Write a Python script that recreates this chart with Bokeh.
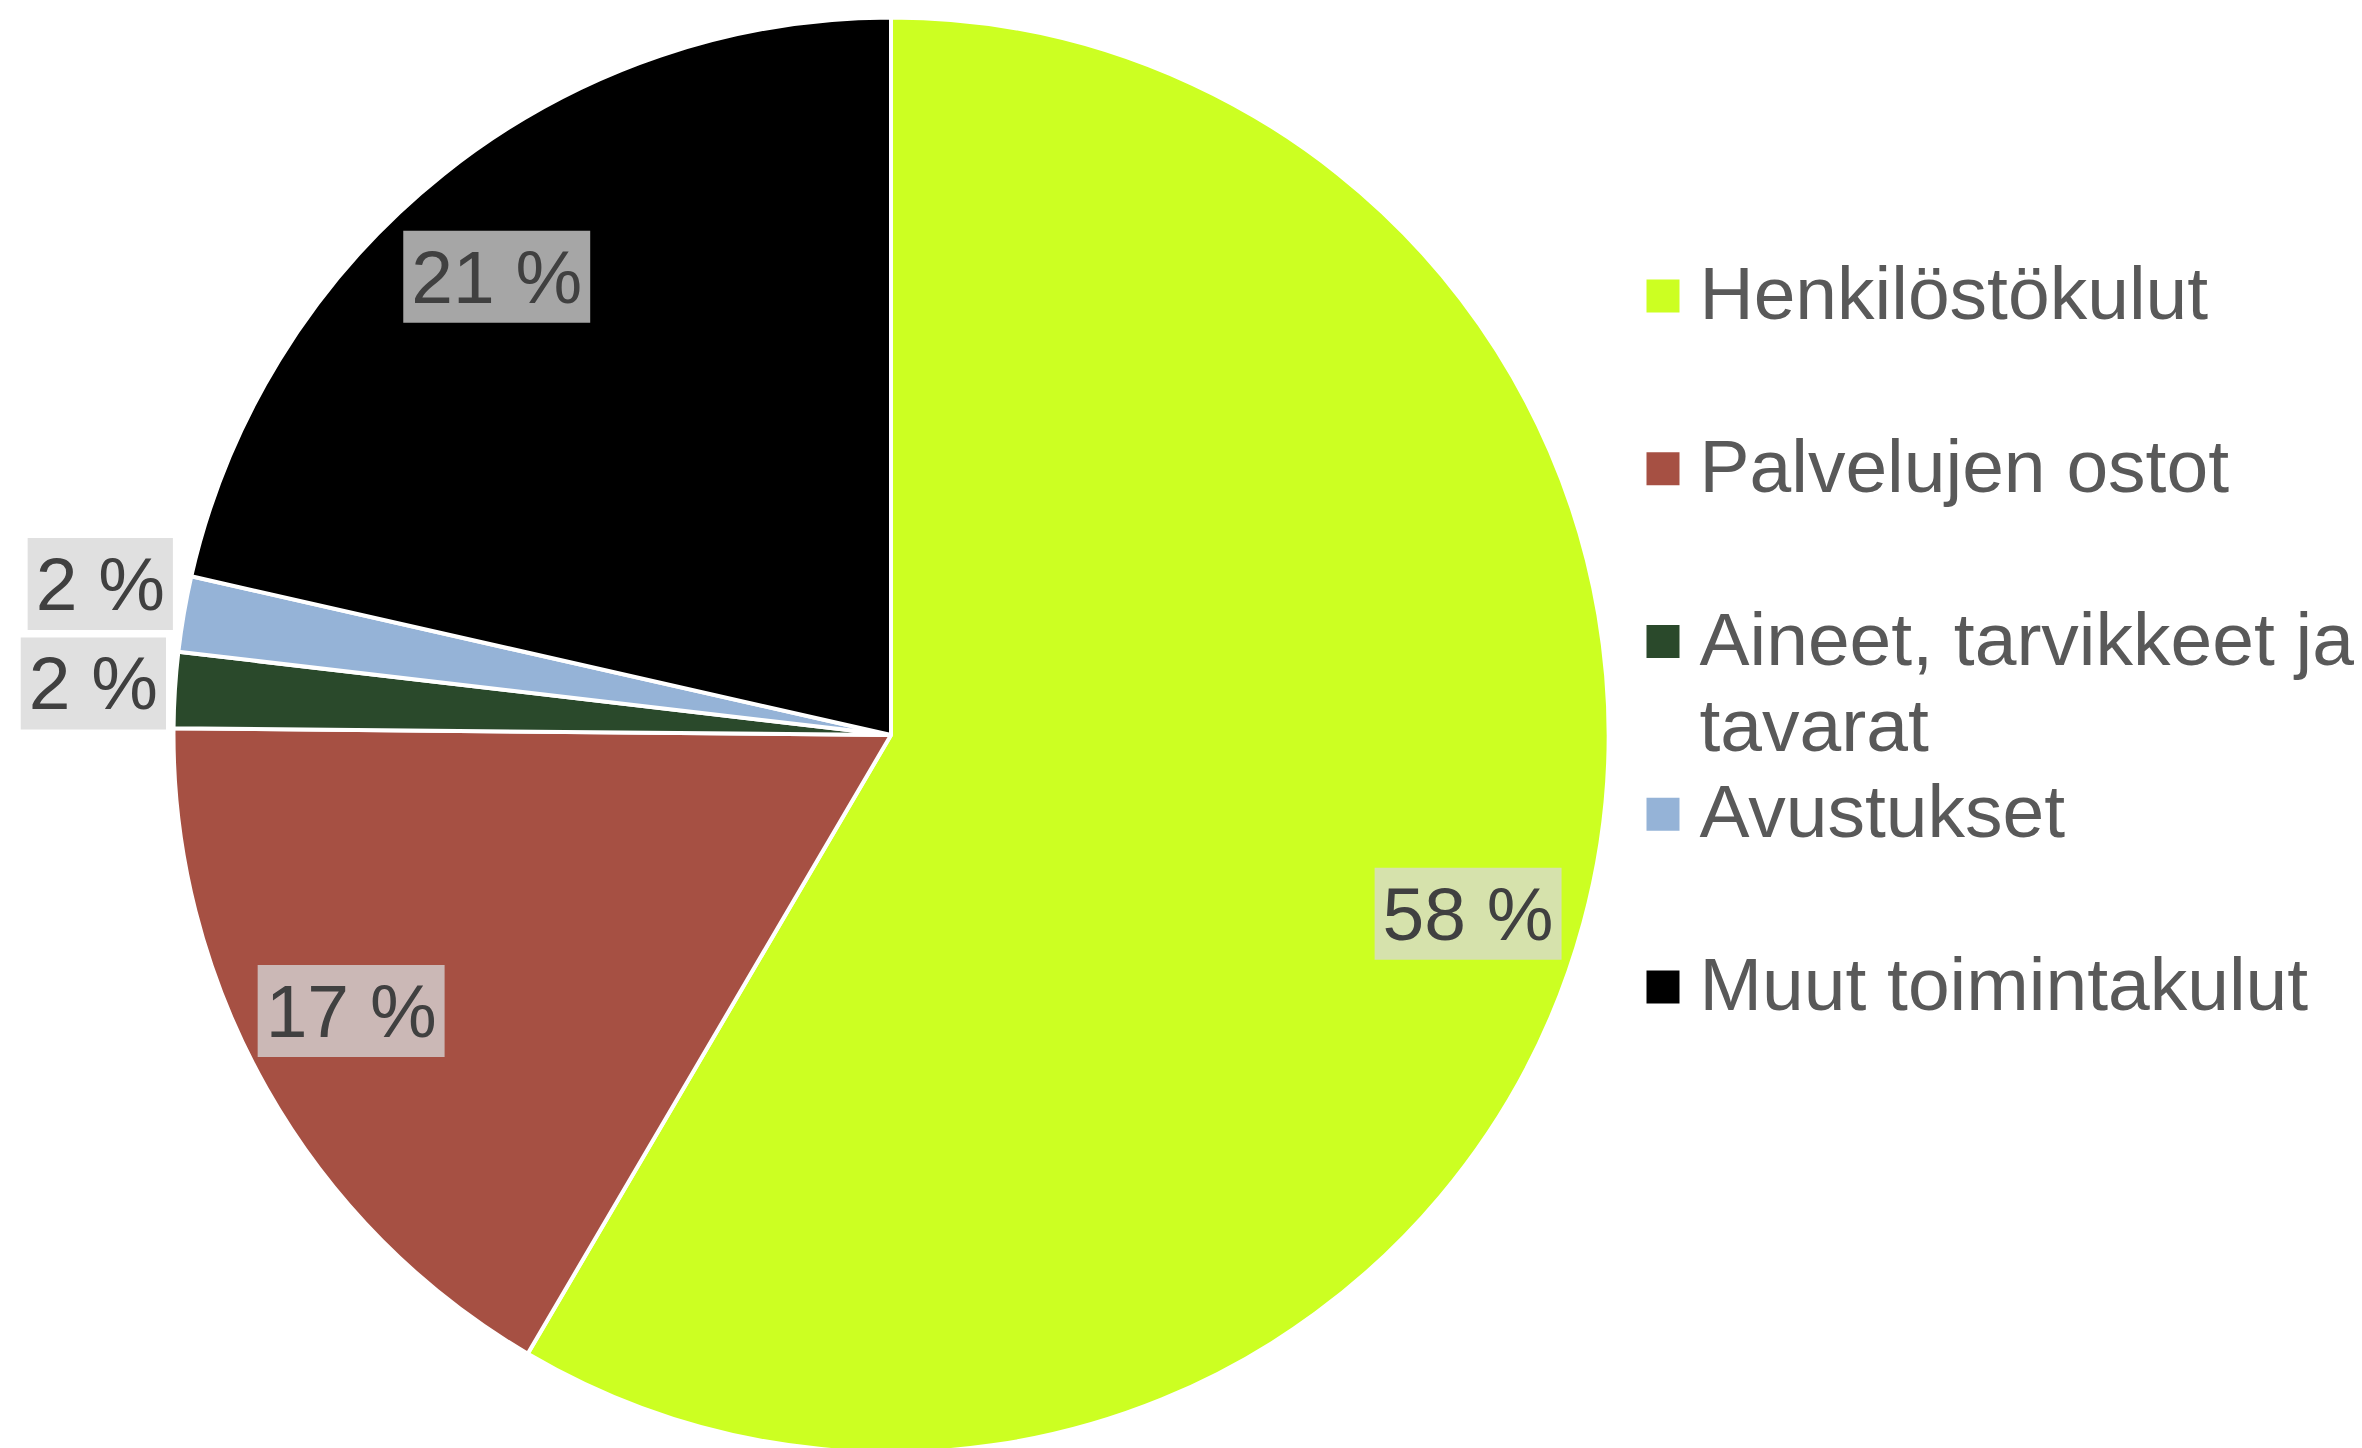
import math
from bokeh.plotting import figure
from bokeh.models import ColumnDataSource, Range1d
from bokeh.core.properties import value
from bokeh.embed import file_html
from bokeh.resources import INLINE

# ---- data ----
categories = ["Henkilöstökulut", "Palvelujen ostot", "Aineet, tarvikkeet ja tavarat",
              "Avustukset", "Muut toimintakulut"]
legend_labels = ["Henkilöstökulut", "Palvelujen ostot", "Aineet, tarvikkeet ja\ntavarat",
                 "Avustukset", "Muut toimintakulut"]
shares = [58.45, 16.7, 1.7, 1.7, 21.45]
colors = ["#ccff22", "#a65043", "#2a492b", "#95b3d7", "#000000"]
label_box_colors = ["#d6e2ac", "#cbb8b6", "#e0e0e0", "#e0e0e0", "#a6a6a6"]

# ---- layout (coordinates in screen pixels, y measured upward from 1448) ----
W, H = 2354, 1448
CX, CY, R = 890.5, 1448 - 734.5, 717.5
label_r = [0.842, 0.845, 1.114, 1.122, 0.8425]
label_shift = [2.0, 2.45, 0.1, 1.1, -2.1]   # degrees, clockwise
FONT = "Liberation Sans"

total = sum(shares)
starts, ends, lx, ly, ltxt = [], [], [], [], []
cum = 0.0
for i, s in enumerate(shares):
    f0 = cum / total
    f1 = (cum + s) / total
    cum += s
    starts.append(math.pi / 2 - 2 * math.pi * f0)
    ends.append(math.pi / 2 - 2 * math.pi * f1)
    mid = (f0 + f1) / 2 * 360 + label_shift[i]
    th = math.radians(mid)
    lx.append(CX + label_r[i] * R * math.sin(th))
    ly.append(CY + label_r[i] * R * math.cos(th))
    ltxt.append("%d %%" % round(100 * s / total))

src = ColumnDataSource(dict(start=starts, end=ends, color=colors))
lab = ColumnDataSource(dict(x=lx, y=ly, text=ltxt, bg=label_box_colors))

p = figure(width=W, height=H, x_range=Range1d(0, W), y_range=Range1d(1448 - H, 1448),
           output_backend="svg", toolbar_location=None,
           x_axis_location=None, y_axis_location=None, min_border=0)
p.outline_line_color = None
p.background_fill_color = "white"
p.border_fill_color = "white"
p.grid.visible = False
p.xgrid.visible = False
p.ygrid.visible = False

p.wedge(x=CX, y=CY, radius=R, start_angle="start", end_angle="end",
        direction="clock", fill_color="color", line_color="white",
        line_width=4, source=src)

p.text(x="x", y="y", text="text", source=lab, text_align="center",
       text_baseline="middle", text_font=value(FONT), text_font_size="75px",
       text_color="#404040", background_fill_color="bg", text_line_height=1.0,
       padding=dict(left=8, right=8, top=4, bottom=4))

# ---- legend (manual) ----
LEG_X_SQ, LEG_X_TXT, LEG_Y0, LEG_STEP, SQ = 1662.5, 1699, 1448 - 295.5, 172.75, 33
leg = ColumnDataSource(dict(
    xs=[LEG_X_SQ] * len(categories),
    ys=[LEG_Y0 - i * LEG_STEP for i in range(len(categories))],
    xt=[LEG_X_TXT] * len(categories),
    yt=[LEG_Y0 - i * LEG_STEP + 45 for i in range(len(categories))],
    text=legend_labels, color=colors))
p.rect(x="xs", y="ys", width=SQ, height=SQ, fill_color="color", line_color=None, source=leg)
p.text(x="xt", y="yt", text="text", source=leg, text_align="left", text_baseline="top",
       text_font=value(FONT), text_font_size="75px", text_color="#595959",
       text_line_height=1.03)

open("out.html", "w").write(file_html(p, INLINE))
